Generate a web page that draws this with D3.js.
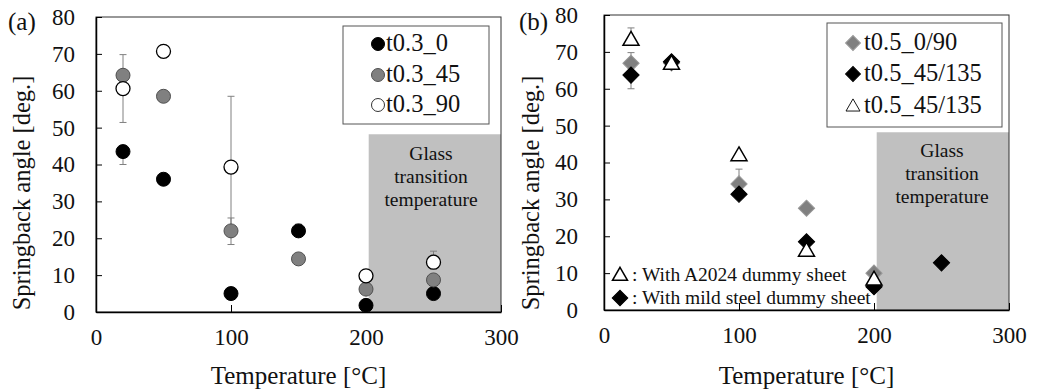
<!DOCTYPE html>
<html>
<head>
<meta charset="utf-8">
<script src="https://cdn.jsdelivr.net/npm/d3@7"></script>
<style>
body { margin:0; background:#fff; }
text { font-family:"Liberation Serif","Times New Roman",serif; fill:#111; }
</style>
</head>
<body>
<svg id="chart" width="1038" height="392"></svg>
<script>
// temperatures (deg C)
var temps = [20, 50, 100, 150, 200, 250];

// panel (a) springback angle
var t03_0  = [43.5, 36.0, 5.0, 22.0, 1.8, 5.0];
var t03_45 = [64.2, 58.5, 22.0, 14.4, 6.2, 8.7];
var t03_90 = [60.6, 70.7, 39.3, null, 9.8, 13.5];
var t03_0Lo  = [40.0, null, null, null, null, null];
var t03_0Hi  = [null, null, null, 23.8, null, null];
var t03_45Lo = [null, null, 18.3, null, null, null];
var t03_45Hi = [69.8, null, 25.5, null, null, null];
var t03_90Lo = [51.4, null, 20.5, null, null, null];
var t03_90Hi = [null, null, 58.5, null, null, 16.5];

// panel (b)
var t05_0_90   = [66.9, 67.0, 34.2, 27.6, 10.0, null];
var t05_45_135 = [63.7, 67.3, 31.4, 18.5, 6.3, 12.8];
var t05_tri    = [73.3, 66.8, 42.0, 16.1, 8.3, null];
var t05_0_90Hi   = [69.8, null, 38.2, null, null, null];
var t05_45_135Lo = [60.0, null, null, null, null, null];
var t05_triHi    = [76.5, null, null, null, null, null];

var xTicks = [0, 100, 200, 300];
var yTicks = [0, 10, 20, 30, 40, 50, 60, 70, 80];
var glassZone = [202, 300, 48.2];   // x from, x to, top value
var glassLines = ["Glass", "transition", "temperature"];

var svg = d3.select("#chart");

var drawMarker = function(g, shape, x, y, size)
{
    var m;
    if (shape.type == "circle")
    {
        m = g.append("circle").attr("cx", x).attr("cy", y).attr("r", size);
    }
    else if (shape.type == "diamond")
    {
        m = g.append("path")
            .attr("d", d3.symbol().type(d3.symbolSquare).size(size*size)())
            .attr("transform", "translate(" + x + "," + y + ") rotate(45)");
    }
    else
    {
        m = g.append("path")
            .attr("d", d3.symbol().type(d3.symbolTriangle).size(size*size*0.433)())
            .attr("transform", "translate(" + x + "," + (y + 1) + ")");
    }
    m.attr("fill", shape.fill)
     .attr("stroke", shape.stroke)
     .attr("stroke-width", shape.sw);
    return m;
}

var drawPanel = function(p)
{
    var xScale = d3.scaleLinear().domain([0, 300]).range([p.left, p.right]);
    var yScale = d3.scaleLinear().domain([0, 80]).range([p.bottom, p.top]);
    var g = svg.append("g");

    // glass transition zone
    g.append("rect")
        .attr("x", xScale(glassZone[0]))
        .attr("y", yScale(glassZone[2]))
        .attr("width", xScale(glassZone[1]) - xScale(glassZone[0]))
        .attr("height", yScale(0) - yScale(glassZone[2]))
        .attr("fill", "#c0c0c0");

    g.append("rect")
        .attr("x", p.left).attr("y", p.top)
        .attr("width", p.right - p.left).attr("height", p.bottom - p.top)
        .attr("fill", "none").attr("stroke", "#333").attr("stroke-width", 1);

    var yAxis = d3.axisLeft(yScale).tickValues(yTicks)
        .tickSizeInner(-6).tickSizeOuter(0).tickPadding(p.ypad);
    var xAxis = d3.axisBottom(xScale).tickValues(xTicks)
        .tickSizeInner(-7).tickSizeOuter(0).tickPadding(17);

    var ya = g.append("g").attr("transform", "translate(" + p.left + ",0)").call(yAxis);
    var xa = g.append("g").attr("transform", "translate(0," + p.bottom + ")").call(xAxis);
    [ya, xa].forEach(function(a)
    {
        a.select(".domain").attr("stroke", "#000").attr("stroke-width", 1.5);
        a.selectAll(".tick line").attr("stroke", "#000");
        a.selectAll("text").attr("font-size", 23).attr("fill", "#111")
            .style("font-family", "'Liberation Serif','Times New Roman',serif");
    });

    // glass text
    glassLines.forEach(function(t, i)
    {
        g.append("text")
            .text(t)
            .attr("x", p.glassX)
            .attr("y", p.glassY + i * 23)
            .attr("text-anchor", "middle")
            .attr("font-size", 19.5);
    });

    // error bars then markers
    p.series.forEach(function(s)
    {
        s.values.forEach(function(v, i)
        {
            if (v == null) { return; }
            var cx = xScale(temps[i]);
            [s.lo ? s.lo[i] : null, s.hi ? s.hi[i] : null].forEach(function(e)
            {
                if (e == null) { return; }
                g.append("line")
                    .attr("x1", cx).attr("x2", cx)
                    .attr("y1", yScale(v)).attr("y2", yScale(e))
                    .attr("stroke", "#808080").attr("stroke-width", 1);
                g.append("line")
                    .attr("x1", cx - 3.5).attr("x2", cx + 3.5)
                    .attr("y1", yScale(e)).attr("y2", yScale(e))
                    .attr("stroke", "#808080").attr("stroke-width", 1);
            });
        });
    });
    p.series.forEach(function(s)
    {
        s.values.forEach(function(v, i)
        {
            if (v == null) { return; }
            drawMarker(g, s.shape, xScale(temps[i]), yScale(v), s.size);
        });
    });

    // legend
    g.append("rect")
        .attr("x", p.legend.x).attr("y", p.legend.y)
        .attr("width", p.legend.w).attr("height", p.legend.h)
        .attr("fill", "#fff").attr("stroke", "#555").attr("stroke-width", 1);
    p.series.forEach(function(s, i)
    {
        var ly = p.legend.rows[i];
        drawMarker(g, s.legShape || s.shape, p.legend.mx, ly, s.legSize);
        g.append("text")
            .text(s.name)
            .attr("x", p.legend.tx)
            .attr("y", ly + 7)
            .attr("font-size", 24.5);
    });

    // labels
    g.append("text")
        .text(p.tag)
        .attr("x", p.tagX).attr("y", 30)
        .attr("font-size", 25);
    g.append("text")
        .text("Temperature [°C]")
        .attr("text-anchor", "middle")
        .attr("x", (p.left + p.right) / 2)
        .attr("y", 384)
        .attr("font-size", 25);
    g.append("text")
        .text("Springback angle [deg.]")
        .attr("text-anchor", "middle")
        .attr("transform", "translate(" + p.ytX + ",193) rotate(-90)")
        .attr("font-size", 24.5);

    return {g: g, xScale: xScale, yScale: yScale};
}

var blackC = {type:"circle", fill:"#000", stroke:"#000", sw:1};
var grayC  = {type:"circle", fill:"#808080", stroke:"#505050", sw:1};
var whiteC = {type:"circle", fill:"#fff", stroke:"#000", sw:1.3};
var whiteCl = {type:"circle", fill:"#fff", stroke:"#000", sw:0.8};
var grayD  = {type:"diamond", fill:"#808080", stroke:"#999", sw:1};
var blackD = {type:"diamond", fill:"#000", stroke:"#000", sw:1};
var whiteT = {type:"triangle", fill:"#fff", stroke:"#000", sw:1.5};
var whiteTl = {type:"triangle", fill:"#fff", stroke:"#000", sw:0.9};

drawPanel({
    left:96, right:501, top:17, bottom:312, ypad:21,
    tag:"(a)", tagX:8, ytX:30,
    glassX:431, glassY:160,
    legend:{x:343, y:26, w:146, h:98, mx:378, tx:386, rows:[44, 75, 105]},
    series:[
        {name:"t0.3_0",  values:t03_0,  lo:t03_0Lo,  hi:t03_0Hi,  shape:blackC, size:7, legSize:6.5},
        {name:"t0.3_45", values:t03_45, lo:t03_45Lo, hi:t03_45Hi, shape:grayC,  size:7, legSize:6.5},
        {name:"t0.3_90", values:t03_90, lo:t03_90Lo, hi:t03_90Hi, shape:whiteC, size:7, legSize:6.5, legShape:whiteCl}
    ]
});

var pb = drawPanel({
    left:604, right:1009, top:15, bottom:310, ypad:26,
    tag:"(b)", tagX:519, ytX:539,
    glassX:942, glassY:157,
    legend:{x:827, y:23, w:175, h:104, mx:853, tx:864, rows:[43, 74, 106]},
    series:[
        {name:"t0.5_0/90",   values:t05_0_90,   hi:t05_0_90Hi,   shape:grayD,  size:11.5, legSize:10.5},
        {name:"t0.5_45/135", values:t05_45_135, lo:t05_45_135Lo, shape:blackD, size:11.5, legSize:10.5},
        {name:"t0.5_45/135", values:t05_tri,    hi:t05_triHi,    shape:whiteT, size:16, legSize:14, legShape:whiteTl}
    ]
});

// dummy sheet notes in panel (b)
var notes = [
    {shape:whiteT, size:15, label:": With A2024 dummy sheet", y:281},
    {shape:blackD, size:11, label:": With mild steel dummy sheet", y:304}
];
notes.forEach(function(n)
{
    drawMarker(pb.g, n.shape, 620, n.y - 6, n.size);
    pb.g.append("text")
        .text(n.label)
        .attr("x", 632)
        .attr("y", n.y)
        .attr("font-size", 19.5);
});
</script>
</body>
</html>
